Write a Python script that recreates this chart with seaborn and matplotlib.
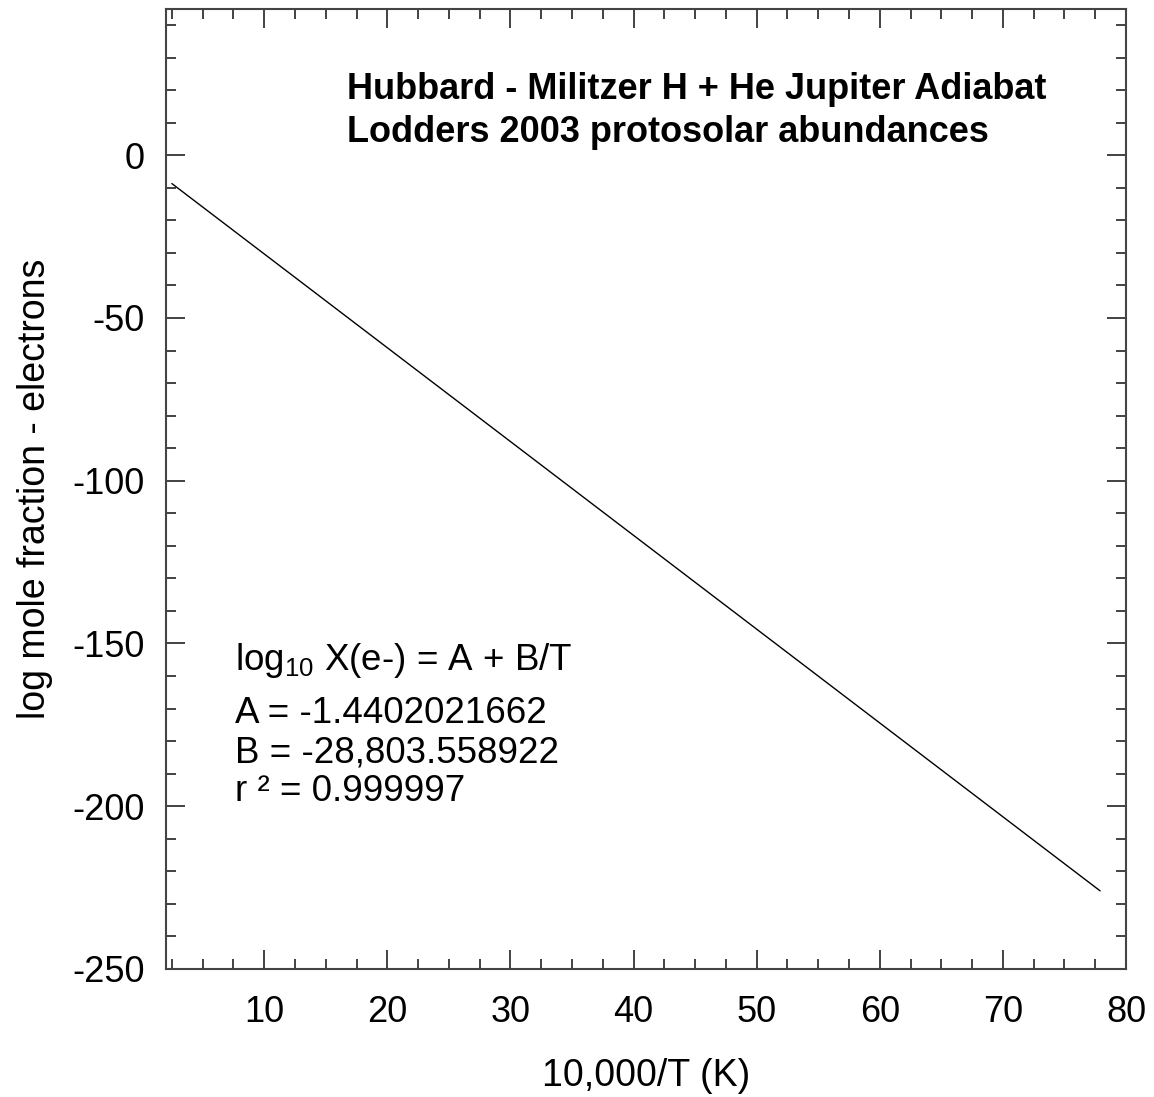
import pandas as pd
import matplotlib
matplotlib.use("Agg")
import matplotlib.pyplot as plt
import seaborn as sns
from matplotlib.ticker import MultipleLocator

# values (straight fit line)
inv_t = [2.5, 77.9]
log_xe = [-8.7, -226.0]

title_lines = ["Hubbard - Militzer H + He Jupiter Adiabat",
               "Lodders 2003 protosolar abundances"]
fit_lines = ["log$_{10}$ X(e-) = A + B/T",
             "A = -1.4402021662",
             "B = -28,803.558922",
             "r \u00b2 = 0.999997"]

sns.set_style("ticks")
plt.rcParams['font.family'] = ['Liberation Sans', 'DejaVu Sans']
plt.rcParams['mathtext.fontset'] = 'custom'
plt.rcParams['mathtext.rm'] = 'Liberation Sans'
plt.rcParams['mathtext.it'] = 'Liberation Sans:italic'
plt.rcParams['mathtext.bf'] = 'Liberation Sans:bold'
plt.rcParams['axes.unicode_minus'] = False
plt.rcParams['text.color'] = 'black'
plt.rcParams['axes.labelcolor'] = 'black'
plt.rcParams['xtick.color'] = 'black'
plt.rcParams['ytick.color'] = 'black'

df = pd.DataFrame({"x": inv_t, "y": log_xe})

fig = plt.figure(figsize=(11.54, 10.97), dpi=100)
ax = fig.add_axes([0.1436, 0.1167, 0.9757 - 0.1436, 0.992 - 0.1167])

sns.lineplot(data=df, x="x", y="y", color="black", linewidth=1.0, ax=ax)

ax.set_xlim(2, 80)
ax.set_ylim(-250, 45)
ax.xaxis.set_major_locator(MultipleLocator(10))
ax.xaxis.set_minor_locator(MultipleLocator(2.5))
ax.yaxis.set_major_locator(MultipleLocator(50))
ax.yaxis.set_minor_locator(MultipleLocator(10))

for s in ax.spines.values():
    s.set_visible(True)
    s.set_color("#444444")
    s.set_linewidth(1.5)

ax.tick_params(which="both", direction="in", top=True, right=True,
               color="#222222", width=1.2)
ax.tick_params(which="major", length=14, labelsize=26)
ax.tick_params(which="minor", length=7)
ax.tick_params(axis="x", which="major", pad=19)
ax.tick_params(axis="y", which="major", pad=15)

ax.set_xlabel("10,000/T (K)", fontsize=27, labelpad=20)
ax.set_ylabel("log mole fraction - electrons", fontsize=27, labelpad=14)

ax.text(16.7, 17.2, title_lines[0], fontsize=26, fontweight="bold",
        va="baseline", ha="left")
ax.text(16.7, 4.0, title_lines[1], fontsize=26, fontweight="bold",
        va="baseline", ha="left")

for txt, yb in zip(fit_lines, [-158.1, -174.4, -186.7, -198.3]):
    ax.text(7.6, yb, txt, fontsize=26.5, va="baseline", ha="left")

fig.savefig("out.png", dpi=100)
